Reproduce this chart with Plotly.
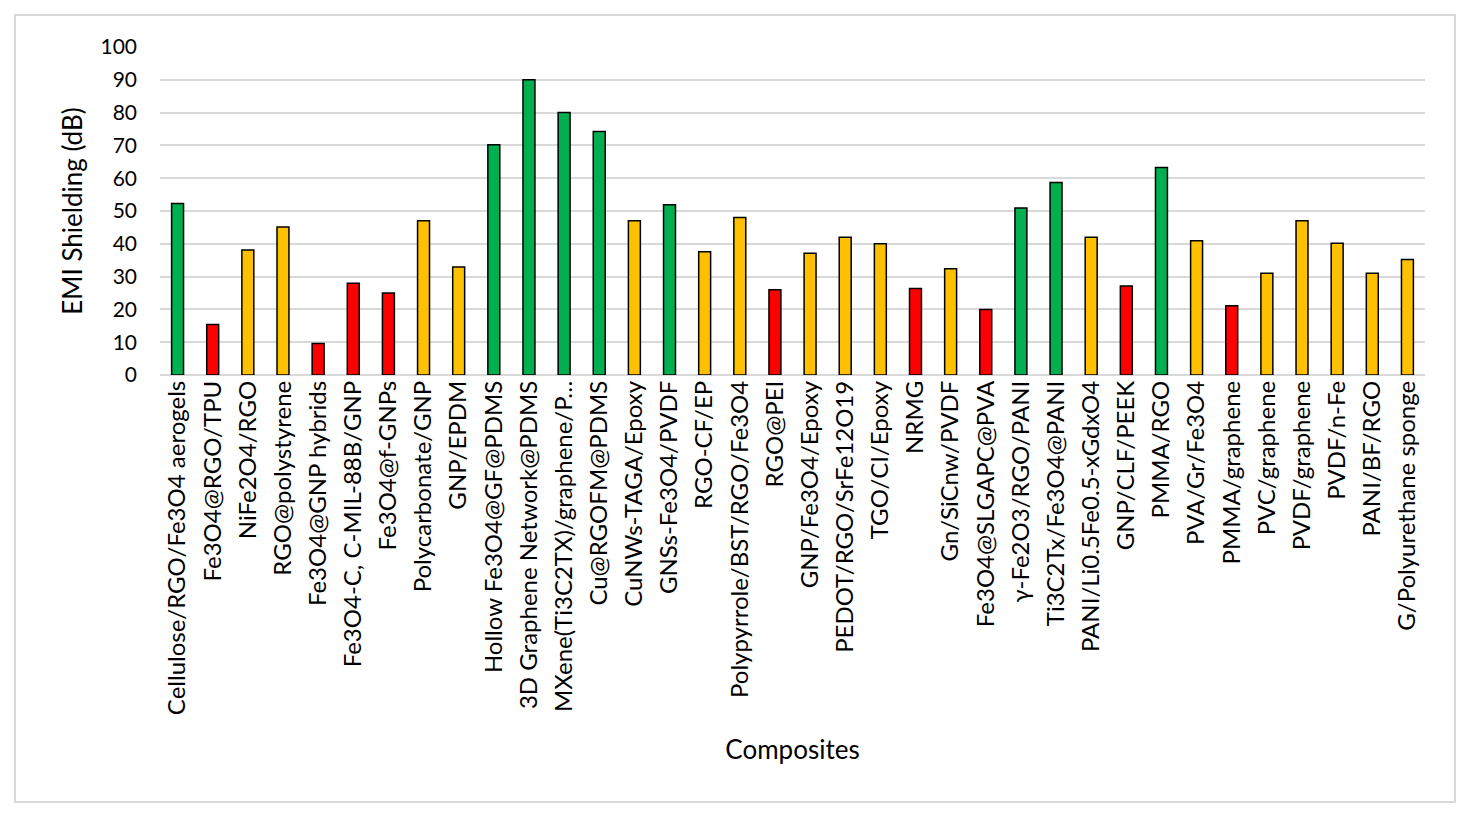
import plotly.graph_objects as go

categories = [
    "Cellulose/RGO/Fe3O4 aerogels", "Fe3O4@RGO/TPU", "NiFe2O4/RGO", "RGO@polystyrene",
    "Fe3O4@GNP hybrids", "Fe3O4-C, C-MIL-88B/GNP", "Fe3O4@f-GNPs", "Polycarbonate/GNP",
    "GNP/EPDM", "Hollow Fe3O4@GF@PDMS", "3D Graphene Network@PDMS", "MXene(Ti3C2TX)/graphene/P…",
    "Cu@RGOFM@PDMS", "CuNWs-TAGA/Epoxy", "GNSs-Fe3O4/PVDF", "RGO-CF/EP",
    "Polypyrrole/BST/RGO/Fe3O4", "RGO@PEI", "GNP/Fe3O4/Epoxy", "PEDOT/RGO/SrFe12O19",
    "TGO/CI/Epoxy", "NRMG", "Gn/SiCnw/PVDF", "Fe3O4@SLGAPC@PVA",
    "γ-Fe2O3/RGO/PANI", "Ti3C2Tx/Fe3O4@PANI", "PANI/Li0.5Fe0.5-xGdxO4", "GNP/CLF/PEEK",
    "PMMA/RGO", "PVA/Gr/Fe3O4", "PMMA/graphene", "PVC/graphene",
    "PVDF/graphene", "PVDF/n-Fe", "PANI/BF/RGO", "G/Polyurethane sponge",
]
shielding_db = [
    52.3, 15.4, 38.1, 45.1, 9.6, 28.0, 25.0, 47.0,
    32.9, 70.2, 90.0, 80.0, 74.2, 47.0, 51.9, 37.6,
    48.0, 26.0, 37.1, 42.0, 40.0, 26.4, 32.4, 20.0,
    50.9, 58.7, 42.0, 27.1, 63.3, 40.9, 21.1, 31.0,
    47.0, 40.2, 31.0, 35.2,
]
rating = [
    "g", "r", "y", "y", "r", "r", "r", "y",
    "y", "g", "g", "g", "g", "y", "g", "y",
    "y", "r", "y", "y", "y", "r", "y", "r",
    "g", "g", "y", "r", "g", "y", "r", "y",
    "y", "y", "y", "y",
]
palette = {"g": "#00B050", "r": "#FF0000", "y": "#FFC000"}
y_ticks = list(range(0, 101, 10))

W, H = 1470, 816
L, R, T, B = 160, 45, 47, 441
FONT = "Lato"

fig = go.Figure(go.Bar(
    x=categories,
    y=shielding_db,
    marker=dict(color=[palette[c] for c in rating], line=dict(color="#000000", width=1.5)),
    width=0.34,
))

pw, ph = W - L - R, H - T - B
def px(x):
    return (x - L) / pw
def py(y):
    return (H - B - y) / ph

fig.add_shape(type="rect", xref="paper", yref="paper",
              x0=px(15), x1=px(1455), y0=py(15), y1=py(802),
              line=dict(color="#D9D9D9", width=2), fillcolor="rgba(0,0,0,0)", layer="below")

fig.update_layout(
    width=W, height=H,
    margin=dict(l=L, r=R, t=T, b=B, autoexpand=False),
    paper_bgcolor="white", plot_bgcolor="white",
    font=dict(family=FONT, color="#000000", size=20),
    showlegend=False,
)
fig.update_xaxes(
    tickangle=-90, tickfont=dict(size=24, family=FONT), automargin=False,
    showgrid=False, showline=False, ticks="",
    title=dict(text="Composites", font=dict(size=26, family=FONT), standoff=26),
)
fig.update_yaxes(
    range=[0, 100], tickvals=y_ticks, tickfont=dict(size=21, family=FONT),
    showgrid=True, gridcolor="#D9D9D9", gridwidth=2,
    zeroline=True, zerolinecolor="#D9D9D9", zerolinewidth=2,
    showline=False, ticks="", ticklabelstandoff=22, automargin=False,
    title=dict(text="EMI Shielding (dB)", font=dict(size=26, family=FONT), standoff=10),
)

fig.write_html("out.html", config={"displayModeBar": False},
               post_script="document.body.style.margin='0';document.body.style.overflow='hidden';")
